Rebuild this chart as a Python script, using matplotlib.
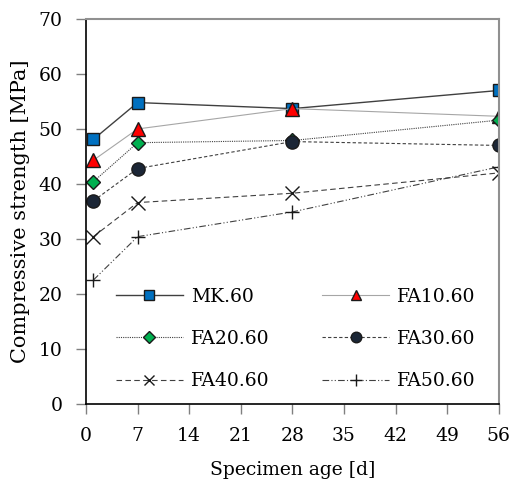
import matplotlib
matplotlib.use("Agg")
import matplotlib.pyplot as plt

plt.rcParams['font.family'] = ['DejaVu Serif']

days = [1, 7, 28, 56]
series_names = ["MK.60", "FA10.60", "FA20.60", "FA30.60", "FA40.60", "FA50.60"]
mk60 = [48.1, 54.8, 53.7, 57.0]
fa10 = [44.3, 50.0, 53.7, 52.3]
fa20 = [40.4, 47.5, 47.9, 51.6]
fa30 = [36.9, 42.8, 47.7, 47.0]
fa40 = [30.4, 36.6, 38.3, 42.0]
fa50 = [22.5, 30.4, 34.9, 43.1]
xticks = [0, 7, 14, 21, 28, 35, 42, 49, 56]
yticks = [0, 10, 20, 30, 40, 50, 60, 70]

fig = plt.figure(figsize=(5.10, 4.88), dpi=100)
ax = fig.add_axes([0.1686, 0.1727, 0.8094, 0.7883])

styles = [
    dict(marker='s', ms=9.2, mfc='#0070C0', mec='#1a1a1a', mew=1.0, color='#404040', ls='-', lw=1.0),
    dict(marker='^', ms=9.5, mfc='#FF0000', mec='#1a1a1a', mew=1.0, color='#a6a6a6', ls='-', lw=0.8),
    dict(marker='D', ms=7.5, mfc='#00B050', mec='#1a1a1a', mew=1.0, color='#404040', ls=(0, (1, 1)), lw=0.8),
    dict(marker='o', ms=9.5, mfc='#1b2636', mec='#1a1a1a', mew=1.0, color='#404040', ls=(0, (3, 2)), lw=0.8),
    dict(marker='x', ms=9.5, mfc='none', mec='#1a1a1a', mew=1.0, color='#404040', ls=(0, (5, 3)), lw=0.8),
    dict(marker='+', ms=10, mfc='none', mec='#1a1a1a', mew=1.0, color='#404040', ls=(0, (6, 2, 1, 2, 1, 2)), lw=0.8),
]
data = [mk60, fa10, fa20, fa30, fa40, fa50]
handles = []
for name, vals, st in zip(series_names, data, styles):
    h, = ax.plot(days, vals, label=name, **st)
    handles.append(h)

ax.set_xlim(0, 56)
ax.set_ylim(0, 70)
ax.set_xticks(xticks)
ax.set_yticks(yticks)
ax.tick_params(axis='both', direction='out', length=7, width=1, color='#808080', labelsize=13.5)
ax.tick_params(axis='y', pad=10)
ax.tick_params(axis='x', pad=10)

for side in ['left', 'bottom']:
    ax.spines[side].set_color('black')
    ax.spines[side].set_linewidth(1.2)
for side in ['top', 'right']:
    ax.spines[side].set_color('#909090')
    ax.spines[side].set_linewidth(1.5)

ax.set_xlabel("Specimen age [d]", fontsize=13.5, labelpad=11)
ax.set_ylabel("Compressive strength [MPa]", fontsize=15, labelpad=6)

order = [0, 2, 4, 1, 3, 5]
leg = ax.legend([handles[i] for i in order], [series_names[i] for i in order],
                ncol=2, loc='lower left', bbox_to_anchor=(0.072, 0.035), frameon=False,
                fontsize=13.5, handlelength=3.6, handletextpad=0.4, columnspacing=2.8,
                labelspacing=1.3, markerscale=0.8, borderaxespad=0, borderpad=0)

fig.savefig("out.png", dpi=100)
